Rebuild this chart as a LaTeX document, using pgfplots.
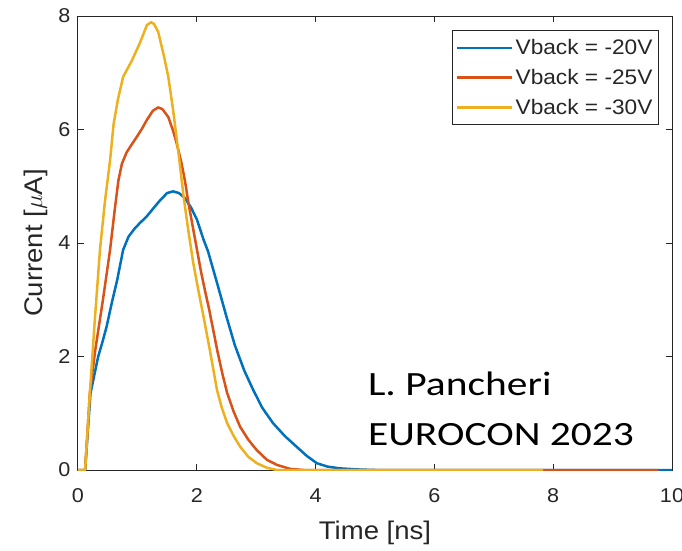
\documentclass[border=0pt]{standalone}
\usepackage{fontspec}
\setmainfont{Liberation Sans}[FakeStretch=1.08]
\newfontfamily\calibri{Carlito}[FakeStretch=1.22]
\usepackage{pgfplots}
\pgfplotsset{compat=1.18}
\definecolor{mblue}{rgb}{0,0.447,0.741}
\definecolor{morange}{rgb}{0.85,0.325,0.098}
\definecolor{myellow}{rgb}{0.929,0.694,0.125}
\definecolor{axgray}{rgb}{0.15,0.15,0.15}
\begin{document}
\begin{tikzpicture}
\begin{axis}[
  scale only axis, width=594pt, height=454pt,
  xmin=0, xmax=10, ymin=0, ymax=8,
  xtick={0,2,4,6,8,10}, ytick={0,2,4,6,8},
  tick align=inside, major tick length=6pt,
  axis line style={color=axgray, line width=1pt},
  every tick/.style={color=axgray, line width=1pt},
  tick label style={font=\fontsize{20}{24}\selectfont, color=axgray},
  /pgf/number format/assume math mode=true,
  xticklabel style={yshift=-15pt},
  yticklabel style={xshift=-4pt},
  xlabel={Time [ns]}, ylabel={Current [$\mu$A]},
  every axis x label/.style={at={(axis description cs:0.5,-0.154)}, anchor=base,
    font=\fontsize{25.5}{30}\selectfont, color=axgray},
  every axis y label/.style={at={(axis description cs:-0.0606,0.5)}, rotate=90, anchor=base,
    font=\fontsize{25.5}{30}\selectfont, color=axgray},
  legend style={at={(0.978,0.969)}, anchor=north east, draw=axgray, line width=1pt,
    font=\fontsize{21}{25}\selectfont, text=axgray, inner xsep=4pt, inner ysep=7pt,
    row sep=9pt, nodes={inner sep=2pt}},
  legend cell align=left,
  legend image code/.code={\draw[#1] (0pt,0pt) -- (55pt,0pt);},
  every axis plot/.append style={line width=2.5pt, line join=round},
]
\addplot[mblue] coordinates {
(0,0)(0.12,0)(0.21,1.35)(0.28,1.7)(0.34,2.0)(0.41,2.25)(0.48,2.52)(0.57,2.95)(0.66,3.35)
(0.76,3.88)(0.85,4.11)(0.95,4.25)(1.04,4.35)(1.15,4.46)(1.26,4.6)(1.38,4.75)(1.5,4.88)
(1.6,4.91)(1.7,4.88)(1.8,4.79)(1.9,4.63)(2.0,4.42)(2.11,4.07)(2.19,3.85)(2.34,3.3)
(2.5,2.7)(2.64,2.2)(2.8,1.75)(2.95,1.41)(3.1,1.1)(3.28,0.83)(3.48,0.6)(3.68,0.41)
(3.85,0.25)(4.02,0.12)(4.2,0.06)(4.4,0.03)(4.7,0.01)(5,0)(10,0)};
\addlegendentry{Vback = -20V}
\addplot[morange] coordinates {
(0,0)(0.12,0)(0.2,1.36)(0.29,2.11)(0.42,3.0)(0.54,3.88)(0.62,4.6)(0.68,5.1)(0.74,5.4)
(0.82,5.6)(0.9,5.73)(0.99,5.87)(1.08,6.02)(1.16,6.17)(1.26,6.33)(1.35,6.39)(1.42,6.36)
(1.52,6.22)(1.6,5.98)(1.66,5.76)(1.74,5.42)(1.8,5.1)(1.86,4.7)(1.93,4.3)(2.0,3.9)(2.07,3.5)
(2.14,3.15)(2.21,2.82)(2.28,2.45)(2.35,2.08)(2.43,1.7)(2.51,1.36)(2.62,1.03)(2.73,0.76)
(2.87,0.53)(3.01,0.35)(3.18,0.18)(3.35,0.09)(3.57,0.02)(3.8,0)(9.77,0)};
\addlegendentry{Vback = -25V}
\addplot[myellow] coordinates {
(0,0)(0.12,0)(0.2,1.36)(0.28,2.6)(0.37,3.88)(0.45,4.7)(0.54,5.46)(0.6,6.1)(0.67,6.52)
(0.76,6.93)(0.9,7.2)(1.04,7.52)(1.16,7.84)(1.23,7.89)(1.28,7.86)(1.35,7.72)(1.45,7.28)
(1.52,6.93)(1.6,6.35)(1.69,5.6)(1.78,4.8)(1.86,4.2)(1.94,3.65)(2.02,3.2)(2.11,2.72)
(2.22,2.11)(2.34,1.41)(2.42,1.1)(2.51,0.83)(2.62,0.6)(2.73,0.41)(2.87,0.23)(3.01,0.12)
(3.18,0.04)(3.35,0)(7.83,0)};
\addlegendentry{Vback = -30V}
\node[anchor=base west, inner sep=0pt, font=\calibri\fontsize{34}{40}\selectfont] at (axis cs:4.88,1.32) {L. Pancheri};
\node[anchor=base west, inner sep=0pt, font=\calibri\fontsize{34}{40}\selectfont] at (axis cs:4.88,0.44) {EUROCON 2023};
\end{axis}
\pgfresetboundingbox
\path[use as bounding box] (-78pt,-80pt) rectangle (604pt,470pt);
\end{tikzpicture}
\end{document}
